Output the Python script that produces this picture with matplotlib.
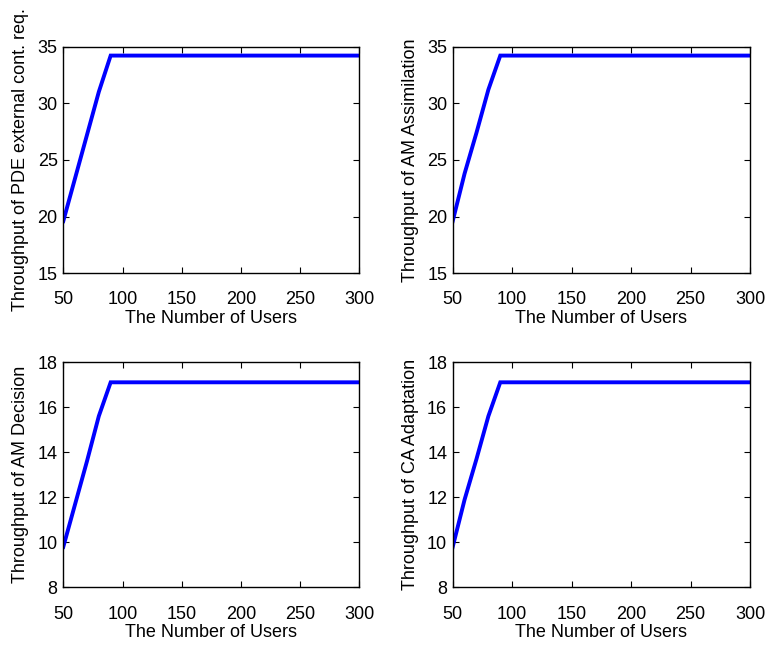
import matplotlib
matplotlib.use("Agg")
import matplotlib.pyplot as plt

plt.rcParams['font.family'] = ['Liberation Sans', 'DejaVu Sans']

users = [50, 60, 70, 80, 90, 100, 150, 200, 250, 300]

pde_external = [19.6, 23.4, 27.2, 31.0, 34.2, 34.2, 34.2, 34.2, 34.2, 34.2]
am_assimilation = [19.6, 23.8, 27.4, 31.2, 34.2, 34.2, 34.2, 34.2, 34.2, 34.2]
am_decision = [9.8, 11.7, 13.6, 15.6, 17.1, 17.1, 17.1, 17.1, 17.1, 17.1]
ca_adaptation = [9.8, 11.9, 13.7, 15.6, 17.1, 17.1, 17.1, 17.1, 17.1, 17.1]

x_ticks = [50, 100, 150, 200, 250, 300]
top_yticks = [15, 20, 25, 30, 35]
bottom_yticks = [8, 10, 12, 14, 16, 18]

panels = [
    (pde_external, "Throughput of PDE external cont. req.", top_yticks,
     [0.0823, 0.577, 0.385, 0.351]),
    (am_assimilation, "Throughput of AM Assimilation", top_yticks,
     [0.5887, 0.577, 0.3866, 0.351]),
    (am_decision, "Throughput of AM Decision", bottom_yticks,
     [0.0823, 0.0906, 0.385, 0.349]),
    (ca_adaptation, "Throughput of CA Adaptation", bottom_yticks,
     [0.5887, 0.0906, 0.3866, 0.349]),
]

fig = plt.figure(figsize=(7.69, 6.46), dpi=100)
for values, ylabel, yticks, rect in panels:
    ax = fig.add_axes(rect)
    ax.plot(users, values, color=(0, 0, 1), linewidth=2.8, solid_joinstyle='miter')
    ax.set_xlim(x_ticks[0], x_ticks[-1])
    ax.set_ylim(yticks[0], yticks[-1])
    ax.set_xticks(x_ticks)
    ax.set_yticks(yticks)
    ax.tick_params(direction='in', top=True, right=True, labelsize=13,
                   length=4, width=0.8)
    ax.tick_params(axis='x', pad=13)
    ax.tick_params(axis='y', pad=4)
    ax.set_xlabel("The Number of Users", fontsize=13, labelpad=1)
    ax.set_ylabel(ylabel, fontsize=13, labelpad=6)
    for s in ax.spines.values():
        s.set_linewidth(1.0)

fig.savefig("out.png", dpi=100)
